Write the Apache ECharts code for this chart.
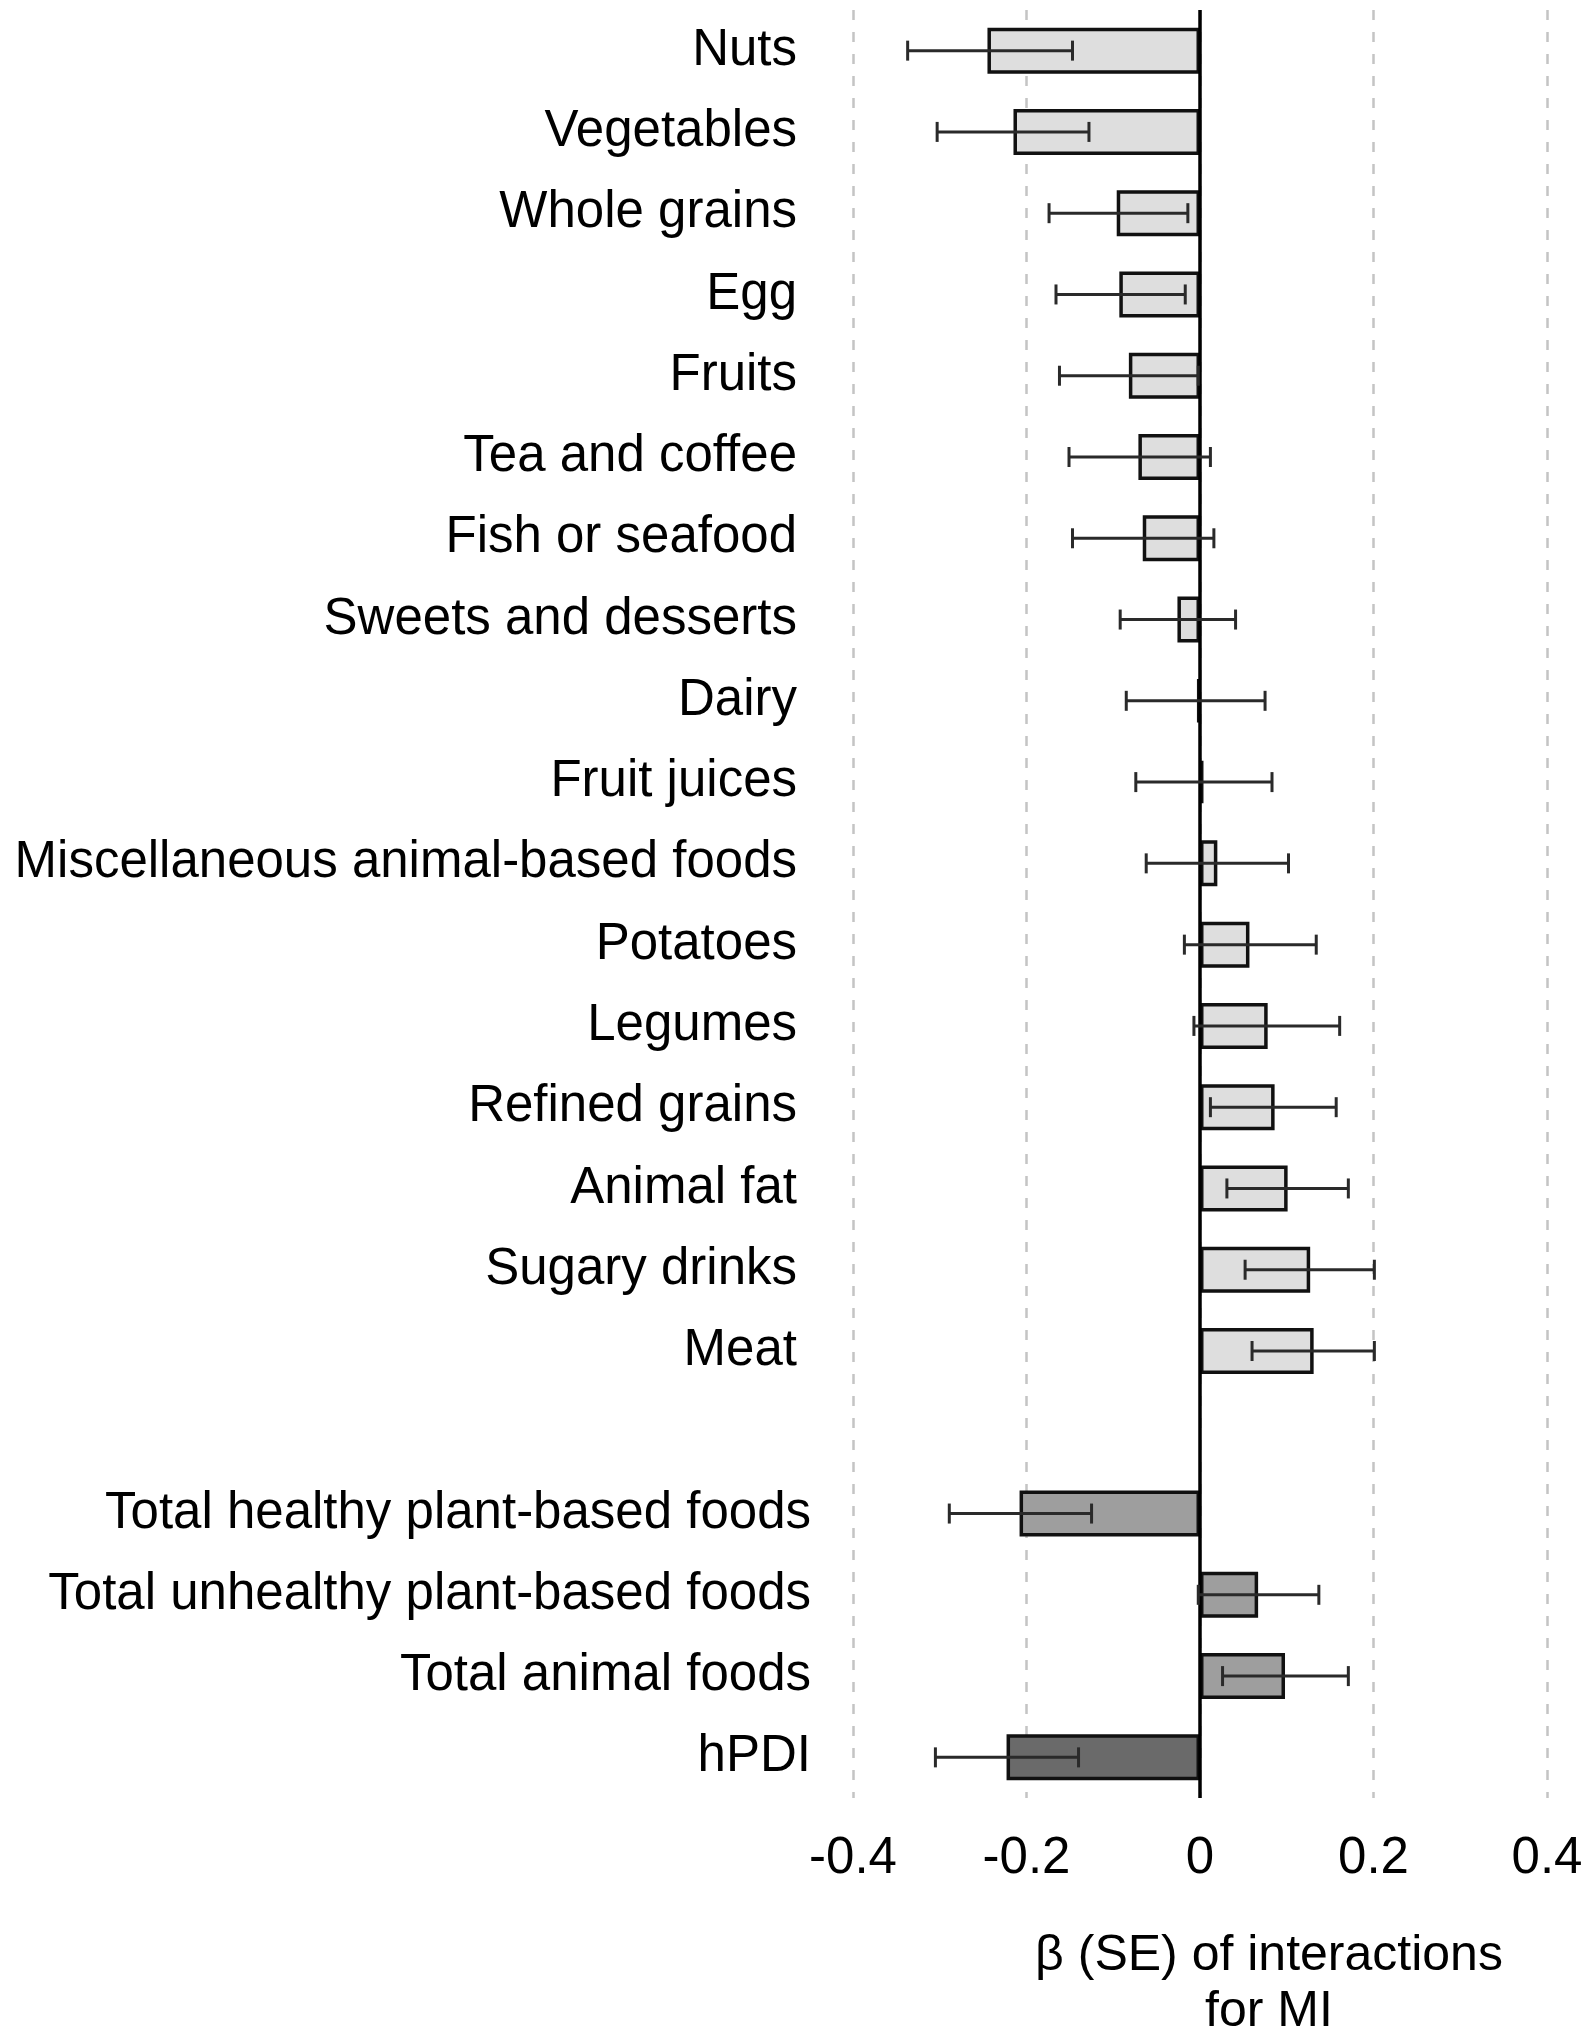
<!DOCTYPE html>
<html>
<head>
<meta charset="utf-8">
<script src="https://cdn.jsdelivr.net/npm/echarts@6/dist/echarts.min.js"></script>
<style>
html,body{margin:0;padding:0;background:#fff;}
#chart{width:1594px;height:2040px;}
</style>
</head>
<body>
<div id="chart"></div>
<script>
// ---- data ----
const categories = [
  'Nuts','Vegetables','Whole grains','Egg','Fruits','Tea and coffee','Fish or seafood',
  'Sweets and desserts','Dairy','Fruit juices','Miscellaneous animal-based foods','Potatoes',
  'Legumes','Refined grains','Animal fat','Sugary drinks','Meat','',
  'Total healthy plant-based foods','Total unhealthy plant-based foods','Total animal foods','hPDI'
];
const beta = [
  -0.245,-0.215,-0.096,-0.093,-0.082,-0.071,-0.066,
  -0.026,-0.003,0.004,0.020,0.057,
  0.078,0.086,0.101,0.127,0.131,null,
  -0.208,0.067,0.098,-0.223
];
const errLow = [
  -0.337,-0.303,-0.174,-0.166,-0.162,-0.151,-0.147,
  -0.092,-0.085,-0.074,-0.062,-0.018,
  -0.007,0.012,0.031,0.052,0.060,null,
  -0.289,-0.002,0.026,-0.305
];
const errHigh = [
  -0.147,-0.128,-0.014,-0.017,-0.002,0.012,0.016,
  0.041,0.075,0.083,0.102,0.134,
  0.161,0.157,0.171,0.201,0.201,null,
  -0.125,0.137,0.171,-0.140
];
const groups = [
  'food','food','food','food','food','food','food',
  'food','food','food','food','food',
  'food','food','food','food','food','none',
  'total','total','total','index'
];
const xTicks = [-0.4,-0.2,0,0.2,0.4];

// ---- styling ----
const groupColor = {food:'#dedede', total:'#9e9e9e', index:'#6a6a6a', none:'#ffffff'};
const FONT = '"Liberation Sans", Arial, sans-serif';

const barData = beta.map((v,i)=>({
  value: v,
  itemStyle: {color: groupColor[groups[i]]}
}));
const errData = categories.map((c,i)=> errLow[i]==null ? null : [i, errLow[i], errHigh[i]]).filter(d=>d);

const chart = echarts.init(document.getElementById('chart'), null, {renderer:'canvas'});
chart.setOption({
  backgroundColor:'#ffffff',
  animation:false,
  grid:{left:853, right:47, top:10, bottom:242, containLabel:false},
  xAxis:{
    type:'value', min:xTicks[0], max:xTicks[xTicks.length-1], interval:0.2,
    axisLine:{show:false}, axisTick:{show:false},
    axisLabel:{fontSize:51, color:'#000', fontFamily:FONT, margin:35},
    splitLine:{show:true, lineStyle:{color:'#c4c4c4', width:2.5, type:[10,12]}}
  },
  yAxis:{
    type:'category', data:categories, inverse:true,
    axisLine:{show:false}, axisTick:{show:false},
    axisLabel:{
      fontSize:51, color:'#000', fontFamily:FONT, margin:42,
      formatter:(v,i)=> v==='' ? '' : (groups[i]==='food' ? '{a|'+v+'}' : '{b|'+v+'}'),
      rich:{
        a:{fontSize:51, color:'#000', fontFamily:FONT, padding:[0,14,0,0]},
        b:{fontSize:51, color:'#000', fontFamily:FONT}
      }
    },
    splitLine:{show:false}
  },
  series:[
    {
      type:'bar', data:barData, barWidth:46,
      itemStyle:{borderColor:'#111', borderWidth:3.5},
      markLine:{
        silent:true, symbol:'none', label:{show:false},
        lineStyle:{color:'#000', width:3.5, type:'solid'},
        data:[{xAxis:0}]
      },
      z:2
    },
    {
      type:'custom', data:errData, z:5,
      renderItem:(params, api)=>{
        const yi = api.value(0);
        const p1 = api.coord([api.value(1), yi]);
        const p2 = api.coord([api.value(2), yi]);
        const h = 10;
        const st = {stroke:'#2a2a2a', lineWidth:3};
        return {type:'group', children:[
          {type:'line', shape:{x1:p1[0], y1:p1[1], x2:p2[0], y2:p2[1]}, style:st},
          {type:'line', shape:{x1:p1[0], y1:p1[1]-h, x2:p1[0], y2:p1[1]+h}, style:st},
          {type:'line', shape:{x1:p2[0], y1:p2[1]-h, x2:p2[0], y2:p2[1]+h}, style:st}
        ]};
      }
    }
  ],
  graphic:[
    {type:'text', x:1269, y:1928, style:{text:'β (SE) of interactions\nfor MI', textAlign:'center', font:'50px '+FONT, fill:'#000', lineHeight:56}}
  ]
});
</script>
</body>
</html>
